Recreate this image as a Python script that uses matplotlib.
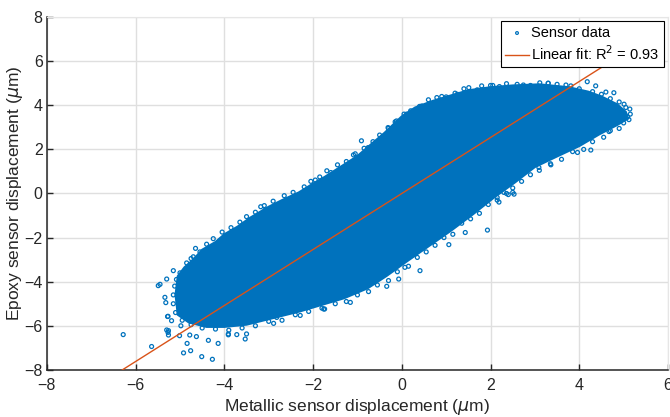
import numpy as np
import matplotlib.pyplot as plt

# contorno de la nube densa
nube_x = [-5.05, -4.9, -4.7, -4.5, -4.2, -4.0, -3.7, -3.42, -3.0, -2.7, -2.32, -2.0,
          -1.74, -1.35, -1.0, -0.77, -0.39, 0.0, 0.3, 0.7, 1.06, 1.5, 2.0, 2.5, 3.1,
          3.76, 4.2, 4.5, 4.85, 5.05, 5.1,
          4.85, 4.45, 4.0, 3.5, 3.0, 2.55, 2.1, 1.6, 1.1, 0.6, 0.1, -0.35, -0.77, -1.3,
          -1.8, -2.3, -2.9, -3.5, -4.0, -4.4, -4.8, -5.05, -5.1]
nube_y = [-3.75, -3.35, -3.0, -2.55, -2.2, -1.85, -1.5, -1.1, -0.6, -0.3, 0.05, 0.45,
          0.75, 1.25, 1.7, 2.1, 2.75, 3.5, 3.9, 4.2, 4.42, 4.68, 4.82, 4.9, 4.95,
          4.82, 4.62, 4.4, 4.05, 3.7, 3.4,
          3.1, 2.68, 2.15, 1.68, 1.2, 0.5, -0.15, -0.95, -1.7, -2.4, -3.1, -3.75, -4.3, -4.75,
          -5.05, -5.35, -5.65, -5.95, -6.05, -6.05, -5.85, -5.5, -4.6]

# puntos del borde superior e inferior de la nube
borde_sup_x = [-5.0, -4.85, -4.75, -4.55, -4.4, -4.25, -4.05, -3.85, -3.65, -3.5, -3.3, -3.1,
               -2.9, -2.65, -2.45, -2.2, -2.05, -1.85, -1.6, -1.45, -1.25, -1.05, -0.85,
               -0.65, -0.5, -0.3, -0.15, 0.05, 0.2, 0.4, 0.6, 0.9, 1.2, 1.4, 1.7, 2.0, 2.2,
               2.6, 2.9, 3.3, 3.5, 3.7, 4.0, 4.3, 4.5, 4.7, 4.9, 5.05, 5.15, 5.12]
borde_sup_y = [-3.6, -3.15, -2.95, -2.65, -2.3, -2.05, -1.75, -1.55, -1.3, -1.05, -0.85, -0.55,
               -0.35, -0.1, 0.05, 0.3, 0.55, 0.75, 0.95, 1.3, 1.45, 1.8, 2.05,
               2.35, 2.65, 2.95, 3.25, 3.6, 3.75, 3.95, 4.25, 4.4, 4.55, 4.75, 4.7, 4.9, 4.85,
               4.95, 4.9, 5.0, 4.95, 4.92, 4.75, 4.62, 4.5, 4.3, 4.15, 3.9, 3.6, 3.35]
borde_inf_x = [5.0, 4.9, 4.7, 4.55, 4.3, 4.1, 3.85, 3.6, 3.35, 3.1, 2.9, 2.7, 2.5, 2.3, 2.15,
               1.95, 1.75, 1.55, 1.35, 1.15, 0.95, 0.75, 0.55, 0.35, 0.15, -0.1, -0.3, -0.55,
               -0.75, -1.0, -1.25, -1.5, -1.8, -2.1, -2.4, -2.7, -3.0, -3.3, -3.6, -3.9, -4.2,
               -4.5, -4.75, -4.95, -5.1, -5.15, -5.15, -5.12, -5.08]
borde_inf_y = [3.2, 2.95, 2.85, 2.55, 2.35, 2.0, 1.9, 1.55, 1.35, 1.05, 0.85, 0.55, 0.25, 0.05,
               -0.3, -0.5, -0.9, -1.15, -1.35, -1.85, -2.0, -2.35, -2.65, -2.9, -3.3, -3.55,
               -3.95, -4.15, -4.45, -4.6, -4.9, -5.0, -5.2, -5.35, -5.5, -5.75, -5.8, -6.0,
               -6.1, -6.2, -6.15, -6.1, -5.95, -5.75, -5.4, -5.0, -4.6, -4.2, -3.9]

# puntos sueltos alejados de la nube
sueltos_x = [-6.28, -5.64, -5.30, -5.26, -5.27, -5.01, -4.92, -4.76, -4.84, -4.78, -4.63,
             -4.51, -4.27, -4.36, -4.14, -3.91, -3.72, -3.53, -2.89, -5.19, -4.98,
             -5.49, -5.45, -5.30, -5.15, -5.34, -5.32, -5.28, -5.26, -5.27, -4.70, -4.65,
             -3.91, -3.18, -3.08, -2.29, -1.76, -2.82, -3.50, -3.91,
             -0.91, -0.76, -1.09, -1.95, -1.69, -0.31, -0.12, 0.11, 0.45, 0.79, 1.0, 1.25, 1.51,
             1.80, 2.05, 2.36, 2.74, 3.11, 3.3, 3.81, 4.18, 4.37, 4.78, 4.6, 5.01, 5.14, 5.09,
             4.86, 4.67, 4.26, 3.96, 3.36, 3.09, 2.53, 2.40, 2.15,
             1.93, 1.43, 1.06, 0.41, -0.07, -0.34, 0.07, 2.19, 2.36, 2.50,
             -1.16, -1.74]
sueltos_y = [-6.40, -6.94, -6.19, -6.42, -5.57, -6.45, -7.23, -7.13, -6.80, -6.42, -6.49,
             -7.40, -7.52, -6.66, -6.80, -6.41, -6.40, -6.60, -5.89, -5.77, -6.0,
             -4.18, -4.12, -3.88, -3.50, -4.71, -4.95, -5.58, -6.22, -6.30, -2.87, -2.49,
             -1.87, -0.60, -0.75, -5.53, -5.24, -5.62, -6.37, -6.37,
             2.39, 2.08, 1.75, 0.61, 1.03, 2.99, 3.29, 3.60, 3.97, 4.35, 4.38, 4.50, 4.80,
             4.88, 4.90, 4.98, 4.92, 5.02, 5.0, 4.88, 5.07, 4.88, 4.57, 4.6, 4.05, 3.83, 3.48,
             3.30, 2.81, 1.97, 1.86, 1.30, 1.18, -0.03, -0.05, -0.18,
             -1.66, -1.77, -2.32, -3.50, -3.88, -4.21, -3.35, -0.39, 0.0, 0.05,
             -4.94, -5.24]

# ajuste lineal
pendiente = 1.27
ordenada = 0.0
rango_x = [-6.3, 5.14]

azul = '#0072BD'
naranja = '#D95319'

plt.rcParams['font.family'] = ['Liberation Sans Narrow', 'Liberation Sans', 'DejaVu Sans']

fig = plt.figure(figsize=(6.7, 4.17), dpi=100)
ax = fig.add_axes([0.070, 0.113, 0.927, 0.846])

ax.fill(nube_x, nube_y, color=azul, lw=1.5, ec=azul, zorder=2)
puntos_x = borde_sup_x + borde_inf_x + sueltos_x
puntos_y = borde_sup_y + borde_inf_y + sueltos_y
ax.scatter(puntos_x, puntos_y, s=8, facecolors='none', edgecolors=azul, linewidths=0.9,
           zorder=2, label='Sensor data')
xs = np.array(rango_x)
ax.plot(xs, pendiente * xs + ordenada, color=naranja, lw=1, zorder=3,
        label='Linear fit: R$^2$ = 0.93')

ax.set_xlim(-8, 6)
ax.set_ylim(-8, 8)
ax.set_xticks(range(-8, 7, 2))
ax.set_yticks(range(-8, 9, 2))
ax.grid(True, color='#dfdfdf', lw=1)
ax.set_axisbelow(True)
ax.tick_params(direction='in', length=4, width=1, labelsize=11.5, colors='#262626')
ax.tick_params(axis='x', pad=6)
ax.tick_params(axis='y', pad=3)
for lado in ['left', 'bottom']:
    ax.spines[lado].set_color('#262626')
    ax.spines[lado].set_linewidth(1.1)
for lado in ['top', 'right']:
    ax.spines[lado].set_color('#e6e6e6')

ax.set_xlabel('Metallic sensor displacement ($\\mu$m)', fontsize=12.5, color='#262626', labelpad=3)
ax.set_ylabel('Epoxy sensor displacement ($\\mu$m)', fontsize=12.5, color='#262626')
ax.yaxis.set_label_coords(-0.036, 0.5)

leg = ax.legend(loc='upper right', fontsize=10.5, fancybox=False, framealpha=1,
                edgecolor='black', handlelength=1.6, handletextpad=0.15,
                borderaxespad=0.3, borderpad=0.3, labelspacing=0.3, markerscale=0.7)
leg.get_frame().set_linewidth(0.8)

fig.savefig('out.png', dpi=100)
